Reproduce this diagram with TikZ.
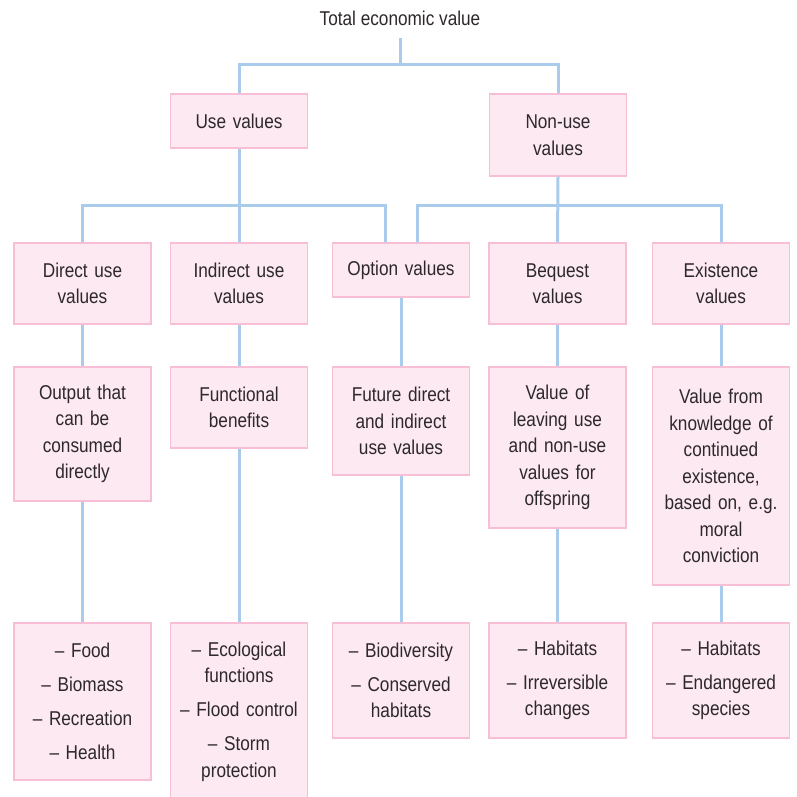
\documentclass[tikz,border=0pt]{standalone}
\usepackage{fontspec}
\setmainfont[FakeStretch=0.86]{Liberation Sans}
\usetikzlibrary{calc,positioning}
\definecolor{boxpink}{RGB}{252,233,242}
\definecolor{edgepink}{RGB}{248,190,214}
\definecolor{linkblue}{RGB}{170,204,236}
\definecolor{inkgray}{RGB}{45,40,43}
\newcommand{\tv}[0]{\fontsize{20}{26.5}\selectfont}

\begin{document}
\begin{tikzpicture}[x=1pt,y=-1pt,
  vbox/.style={draw=edgepink, fill=boxpink, line width=1.4pt, text=inkgray,
    font=\tv, align=center, text width=128pt, inner sep=4pt,
    minimum width=137pt},
  link/.style={linkblue, line width=3pt}]
\useasboundingbox (0,0) rectangle (797,797);
% top
\node [text=inkgray, font=\tv, minimum height=40pt] (tev) at (400,18) {Total economic value};
\node [vbox, minimum height=54pt] (use) at (239,121) {Use values};
\node [vbox, minimum height=82pt] (nonuse) at (558,135) {Non-use\\values};
% kinds of value
\node [vbox, minimum height=81pt] (direct) at (82.5,283.5) {Direct use\\values};
\node [vbox, minimum height=81pt] (indirect) at (239,283.5) {Indirect use\\values};
\node [vbox, minimum height=54pt] (option) at (401,270) {Option values};
\node [vbox, minimum height=81pt] (bequest) at (557.5,283.5) {Bequest\\values};
\node [vbox, minimum height=81pt] (existence) at (721,283.5) {Existence\\values};
% what they are
\node [vbox, minimum height=134pt] (output) at (82.5,434) {Output that\\can be\\consumed\\directly};
\node [vbox, minimum height=81pt] (functional) at (239,407.5) {Functional\\benefits};
\node [vbox, minimum height=108pt] (future) at (401,421) {Future direct\\and indirect\\use values};
\node [vbox, minimum height=161pt] (leaving) at (557.5,447.5) {Value of\\leaving use\\and non-use\\values for\\offspring};
\node [vbox, minimum height=218pt] (knowledge) at (721,476) {Value from\\knowledge of\\continued\\existence,\\based on, e.g.\\moral\\conviction};
% examples
\node [vbox, minimum height=157pt] (directlist) at (82.5,701.5) {-- Food\\[7.5pt]-- Biomass\\[7.5pt]-- Recreation\\[7.5pt]-- Health};
\node [vbox, minimum height=177pt] (ecolist) at (239,711.5) {-- Ecological\\functions\\[7.5pt]-- Flood control\\[7.5pt]-- Storm\\protection};
\node [vbox, minimum height=115pt] (optionlist) at (401,680.5) {-- Biodiversity\\[7.5pt]-- Conserved\\habitats};
\node [vbox, minimum height=115pt] (bequestlist) at (557.5,680.5) {-- Habitats\\[7.5pt]-- Irreversible\\changes};
\node [vbox, minimum height=115pt] (existlist) at (721,680.5) {-- Habitats\\[7.5pt]-- Endangered\\species};
% links
\coordinate (j1) at (400,65);
\coordinate (j2) at (239,205);
\coordinate (j3) at (558,205);
\coordinate (oL) at ([xshift=-16pt]option.north);
\coordinate (oR) at ([xshift=16pt]option.north);
\draw [link] (tev.south) -- (j1);
\draw [link] (use.north) |- (j1) -| (nonuse.north);
\draw [link] (use.south) -- (indirect.north);
\draw [link] (direct.north) |- (j2) -| (oL);
\draw [link] (nonuse.south) -- (bequest.north);
\draw [link] (oR) |- (j3) -| (existence.north);
\draw [link] (direct) -- (output) (output) -- (directlist);
\draw [link] (indirect) -- (functional) (functional) -- (ecolist);
\draw [link] (option) -- (future) (future) -- (optionlist);
\draw [link] (bequest) -- (leaving) (leaving) -- (bequestlist);
\draw [link] (existence) -- (knowledge) (knowledge) -- (existlist);
\end{tikzpicture}
\end{document}
